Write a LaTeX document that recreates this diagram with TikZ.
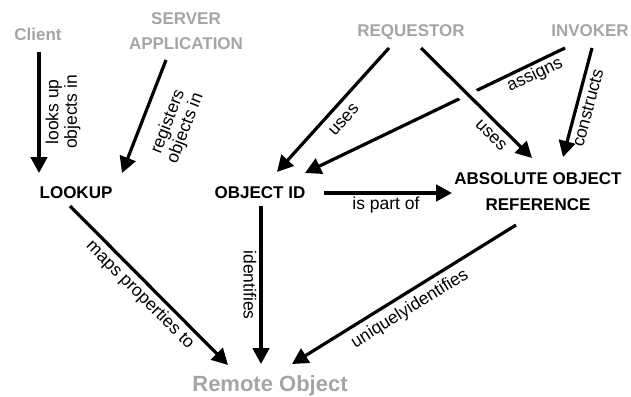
\documentclass[tikz,border=0pt]{standalone}
\usepackage{fontspec}
\setmainfont{Liberation Sans}
\usetikzlibrary{arrows.meta,calc}
\definecolor{lgray}{RGB}{165,165,165}
\begin{document}
\begin{tikzpicture}[x=1pt,y=-1pt,
  actor/.style={font=\fontsize{17}{25}\selectfont\bfseries, text=lgray, align=center, inner sep=0pt},
  concept/.style={font=\fontsize{17}{26}\selectfont\bfseries, align=center, inner sep=0pt},
  lbl/.style={font=\fontsize{17.5}{18.5}\selectfont, align=center, inner sep=0pt},
  arr/.style={line width=3.2pt, -{Triangle[length=16pt,width=16.5pt]}}]
\useasboundingbox (0,0) rectangle (631,396);
% nodes
\node[actor, anchor=base] (client) at (38,41) {Client};
\node[actor] (server) at (186,31) {SERVER\\APPLICATION};
\node[actor, anchor=base] (req) at (411,37) {REQUESTOR};
\node[actor, anchor=base] (inv) at (590,37) {INVOKER};
\node[concept, anchor=base] (lookup) at (76,198) {LOOKUP};
\node[concept, anchor=base] (objid) at (260,198) {OBJECT ID};
\node[concept] (abs) at (538,192) {ABSOLUTE OBJECT\\REFERENCE};
\node[actor, font=\fontsize{22}{26}\selectfont\bfseries, anchor=base] (remote) at (270,391) {Remote Object};
% connectors
\draw[arr] ($(client.base)+(1,11)$) -- ($(lookup.base)+(-37,-25)$);
\draw[arr] ($(server.center)+(-20,29)$) -- ($(lookup.base)+(46,-25)$);
\draw[arr] ($(req.base)+(-22,11)$) -- ($(objid.base)+(17,-26)$);
\draw[arr] ($(inv.base)+(-25,11)$) -- ($(objid.base)+(45,-25)$);
\draw[arr, preaction={draw=white, line width=18pt, -, shorten <=25pt, shorten >=30pt}] ($(req.base)+(10,11)$) -- ($(abs.center)+(-6,-34)$);
\draw[arr] ($(inv.base)+(2,11)$) -- ($(abs.center)+(25,-35)$);
\draw[arr] ($(objid.base)+(64,-5)$) -- ($(abs.center)+(-86,1)$);
\draw[arr] ($(lookup.base)+(-6,8)$) -- ($(remote.base)+(-42,-26)$);
\draw[arr] ($(objid.base)+(1,8)$) -- ($(remote.base)+(-9,-27)$);
\draw[arr] ($(abs.center)+(-22,33)$) -- ($(remote.base)+(22,-27)$);
% labels
\node[lbl, rotate=90] (l1) at (63,112) {looks up\\objects in};
\node[lbl, rotate=69] (l2) at (177,125) {registers\\objects in};
\node[lbl, rotate=48] (l3) at (344,120) {uses};
\node[lbl, rotate=-45] (l4) at (491,135) {uses};
\node[lbl, rotate=25.7] (l5) at (535,75) {assigns};
\node[lbl, rotate=75] (l6) at (588,108) {constructs};
\node[lbl] (l7) at (386,205) {is part of};
\node[lbl, rotate=-45] (l8) at (140,295) {maps properties to};
\node[lbl, rotate=-90] (l9) at (250,285) {identifies};
\node[lbl, rotate=31.8] (l10) at (410,309) {uniquelyidentifies};
\end{tikzpicture}
\end{document}
